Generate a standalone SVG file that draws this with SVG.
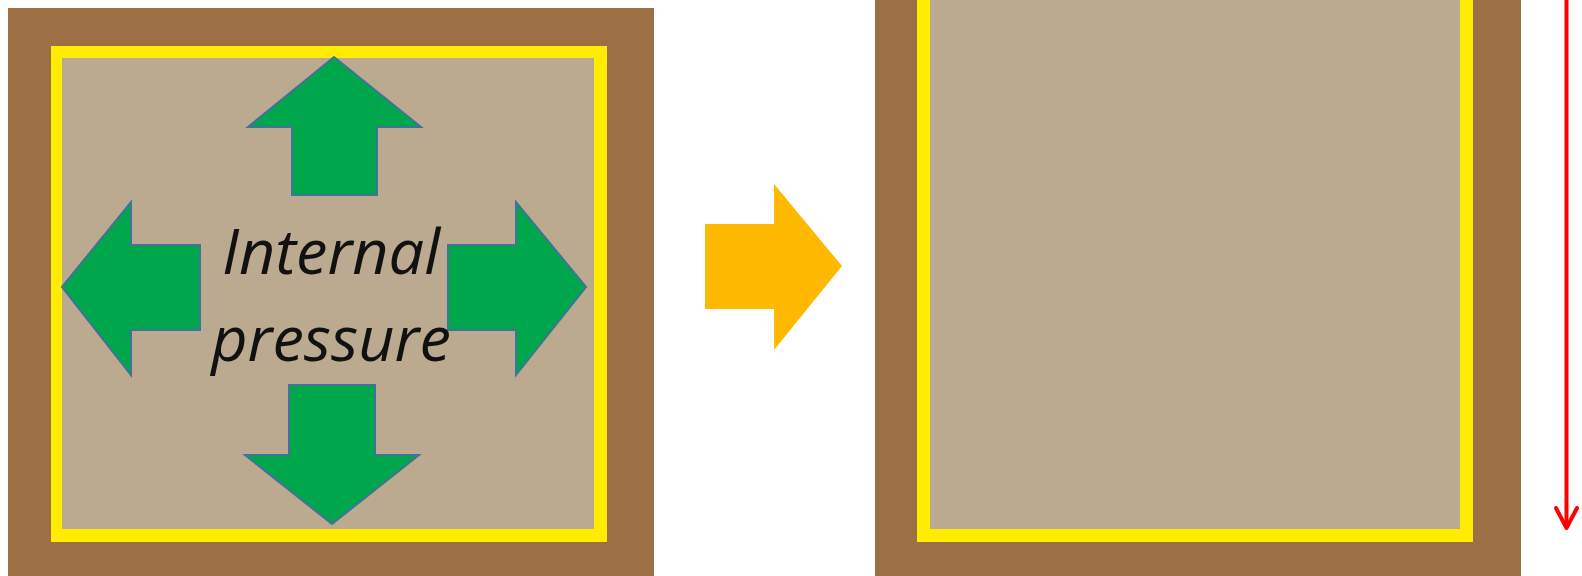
<svg xmlns="http://www.w3.org/2000/svg" width="1582" height="576" viewBox="0 0 1582 576">
<style>
.brown{fill:#9D6F45}
.yellow{fill:#FFEC00}
.beige{fill:#BBAA8F}
.green{fill:#00A64C;stroke:#3F7397;stroke-width:2;stroke-linejoin:miter}
.label{font-family:"Open Sans","Noto Sans",sans-serif;font-style:italic;font-size:63px;fill:#111;text-anchor:middle}
</style>
<rect width="1582" height="576" fill="#ffffff"/>
<g id="left-container">
<rect class="brown" x="8" y="8" width="646" height="568"/>
<rect class="yellow" x="51" y="46" width="556" height="496"/>
<rect class="beige" x="62" y="58" width="532" height="471"/>
</g>
<g id="arrow-up"><polygon class="green" points="334,57 421,127 377,127 377,195 292,195 292,127 248,127"/></g>
<g id="arrow-down"><polygon class="green" points="332,524 419,455 375,455 375,385 289,385 289,455 245,455"/></g>
<g id="arrow-left"><polygon class="green" points="62,287 131,202 131,245 200,245 200,330 131,330 131,375"/></g>
<g id="arrow-right"><polygon class="green" points="586,287 516,202 516,245 448,245 448,330 516,330 516,375"/></g>
<g id="label"><text class="label" x="331" y="274">Internal</text><text class="label" x="331" y="361">pressure</text></g>
<g id="right-container">
<rect class="brown" x="875" y="0" width="646" height="576"/>
<rect class="yellow" x="917" y="0" width="556" height="542"/>
<rect class="beige" x="930" y="0" width="530" height="529"/>
</g>
<g id="connectors">
<polygon id="transition-arrow" fill="#FFB900" points="705,224 774,224 774,184 842,266 774,350 774,309 705,309"/>
<g id="red-arrow" fill="none" stroke="#FF0000" stroke-width="4" stroke-linecap="round" stroke-linejoin="round">
<line x1="1566.5" y1="0" x2="1566.5" y2="527"/>
<polyline points="1556,508 1566.5,528 1577,508"/>
</g>
</g>
</svg>
